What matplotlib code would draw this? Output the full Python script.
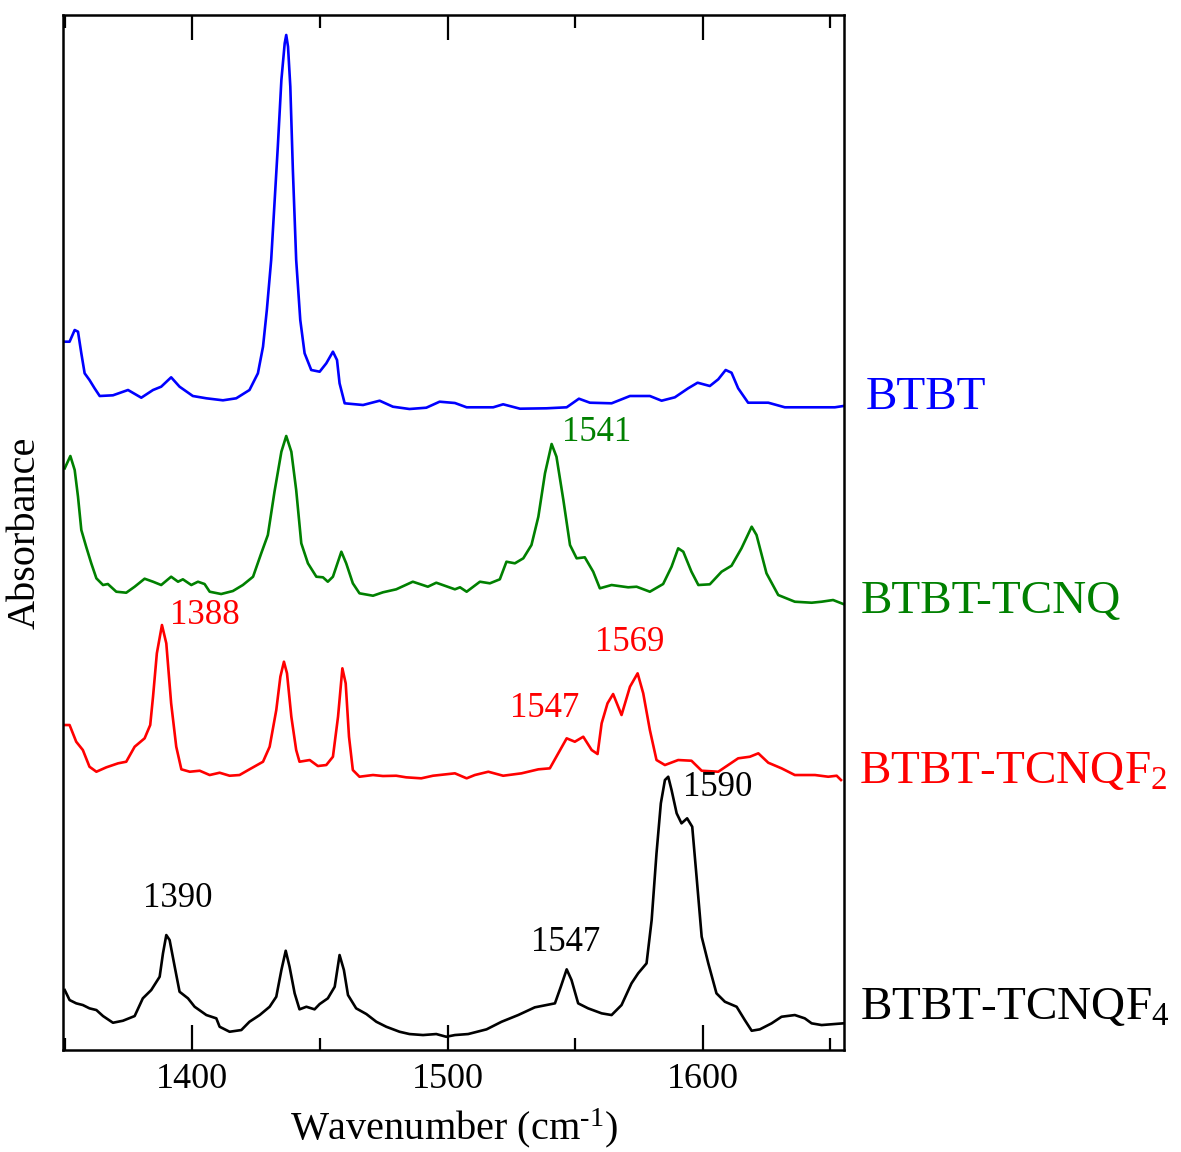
import matplotlib
matplotlib.use("Agg")
import matplotlib.pyplot as plt
from matplotlib.ticker import MultipleLocator

plt.rcParams['font.family'] = ['Liberation Serif', 'DejaVu Serif']
plt.rcParams['mathtext.fontset'] = 'custom'
plt.rcParams['mathtext.rm'] = 'Liberation Serif'
plt.rcParams['mathtext.it'] = 'Liberation Serif:italic'

# IR spectra (absorbance, stacked for clarity)
btbt_x = [1350.0, 1351.9, 1353.9, 1355.2, 1356.5, 1357.8, 1359.7, 1361.7, 1363.7, 1368.9,
          1374.8, 1380.0, 1384.6, 1387.8, 1391.7, 1395.0, 1400.2, 1405.5, 1412.0, 1417.2,
          1422.4, 1425.7, 1427.7, 1429.2, 1430.9, 1432.2, 1433.5, 1434.9, 1436.2, 1436.8,
          1437.5, 1438.4, 1439.4, 1440.7, 1442.3, 1444.0, 1446.6, 1449.9, 1452.5, 1455.1,
          1456.7, 1457.7, 1459.7, 1466.9, 1473.4, 1478.6, 1485.1, 1491.7, 1496.9, 1502.9,
          1507.5, 1517.9, 1521.8, 1528.4, 1538.8, 1546.7, 1551.5, 1555.8, 1564.3, 1571.5,
          1579.3, 1583.9, 1589.1, 1594.3, 1598.0, 1602.8, 1606.1, 1609.0, 1611.3, 1613.9,
          1617.8, 1625.7, 1632.2, 1651.8, 1655.1]
btbt_y = [7.083, 7.083, 7.20, 7.183, 6.967, 6.767, 6.70, 6.617, 6.54, 6.547,
          6.60, 6.523, 6.60, 6.633, 6.727, 6.633, 6.54, 6.517, 6.497, 6.517,
          6.60, 6.767, 7.033, 7.40, 7.90, 8.467, 9.033, 9.70, 10.067, 10.15,
          10.033, 9.633, 8.80, 7.90, 7.30, 6.967, 6.80, 6.783, 6.867, 6.983,
          6.90, 6.667, 6.467, 6.45, 6.493, 6.433, 6.41, 6.423, 6.483, 6.47,
          6.427, 6.427, 6.457, 6.413, 6.417, 6.427, 6.513, 6.473, 6.467, 6.54,
          6.54, 6.493, 6.527, 6.617, 6.673, 6.64, 6.707, 6.80, 6.773, 6.617,
          6.473, 6.473, 6.427, 6.427, 6.44]

tcnq_x = [1350.0, 1352.2, 1353.9, 1355.2, 1356.5, 1358.4, 1360.4, 1362.4, 1365.0, 1366.9,
          1370.2, 1374.1, 1377.4, 1381.3, 1384.6, 1387.8, 1391.7, 1394.4, 1396.3, 1399.6,
          1402.2, 1404.8, 1406.8, 1411.3, 1415.9, 1419.8, 1423.8, 1427.0, 1429.6, 1432.2,
          1434.9, 1436.8, 1438.8, 1440.7, 1442.7, 1445.3, 1448.6, 1451.2, 1453.1, 1455.1,
          1458.4, 1460.3, 1462.9, 1465.5, 1470.8, 1474.7, 1479.9, 1486.4, 1492.3, 1495.6,
          1502.9, 1504.9, 1507.5, 1512.7, 1516.6, 1520.5, 1523.1, 1526.4, 1529.7, 1532.9,
          1535.6, 1538.2, 1540.8, 1542.7, 1545.4, 1548.0, 1550.6, 1553.8, 1557.1, 1559.7,
          1564.3, 1570.8, 1574.1, 1579.3, 1584.5, 1587.8, 1590.4, 1592.4, 1595.6, 1598.3,
          1602.8, 1607.4, 1611.3, 1615.2, 1619.2, 1621.1, 1625.0, 1629.6, 1636.1, 1642.7,
          1646.6, 1651.1, 1655.1]
tcnq_y = [5.817, 5.94, 5.80, 5.533, 5.20, 5.033, 4.867, 4.717, 4.65, 4.66,
          4.583, 4.573, 4.633, 4.713, 4.683, 4.65, 4.733, 4.683, 4.707, 4.65,
          4.683, 4.66, 4.583, 4.56, 4.59, 4.65, 4.733, 4.967, 5.15, 5.583,
          5.983, 6.14, 5.983, 5.60, 5.067, 4.867, 4.733, 4.727, 4.683, 4.733,
          4.983, 4.867, 4.667, 4.567, 4.543, 4.577, 4.607, 4.683, 4.633, 4.673,
          4.607, 4.627, 4.583, 4.683, 4.667, 4.707, 4.883, 4.867, 4.917, 5.05,
          5.333, 5.767, 6.06, 5.933, 5.50, 5.05, 4.917, 4.927, 4.783, 4.617,
          4.65, 4.627, 4.633, 4.583, 4.66, 4.833, 5.017, 4.983, 4.783, 4.65,
          4.657, 4.783, 4.843, 5.017, 5.233, 5.15, 4.767, 4.55, 4.483, 4.473,
          4.483, 4.50, 4.46]

f2_x = [1350.0, 1351.9, 1354.5, 1357.1, 1359.7, 1362.4, 1366.3, 1370.9, 1374.1, 1377.4,
        1381.3, 1383.5, 1384.6, 1386.1, 1388.1, 1389.8, 1391.7, 1393.7, 1395.7, 1399.0,
        1402.9, 1406.8, 1410.7, 1414.6, 1418.5, 1422.4, 1427.7, 1430.3, 1432.9, 1434.5,
        1435.9, 1437.1, 1438.8, 1440.7, 1442.0, 1446.0, 1449.2, 1452.5, 1455.1, 1457.1,
        1458.8, 1460.1, 1461.4, 1462.9, 1465.5, 1470.8, 1474.7, 1479.9, 1483.8, 1489.7,
        1494.3, 1502.9, 1507.5, 1510.7, 1516.0, 1521.8, 1529.0, 1535.6, 1540.1, 1543.4,
        1546.7, 1549.9, 1553.2, 1556.5, 1558.8, 1560.4, 1562.7, 1564.9, 1568.2, 1571.5,
        1574.5, 1576.7, 1579.3, 1581.9, 1585.2, 1590.4, 1595.6, 1599.6, 1606.1, 1610.0,
        1613.9, 1618.5, 1621.8, 1625.7, 1630.9, 1636.1, 1644.0, 1649.2, 1652.5, 1654.2]
f2_y = [3.25, 3.25, 3.083, 3.00, 2.833, 2.783, 2.827, 2.867, 2.883, 3.033,
        3.117, 3.25, 3.533, 3.967, 4.25, 4.067, 3.467, 3.033, 2.807, 2.783,
        2.793, 2.75, 2.773, 2.743, 2.75, 2.807, 2.883, 3.033, 3.40, 3.733,
        3.883, 3.767, 3.333, 3.00, 2.883, 2.90, 2.84, 2.85, 2.933, 3.333,
        3.817, 3.667, 3.133, 2.80, 2.733, 2.75, 2.74, 2.743, 2.727, 2.717,
        2.743, 2.767, 2.717, 2.75, 2.783, 2.743, 2.767, 2.807, 2.817, 2.967,
        3.117, 3.083, 3.133, 3.00, 2.96, 3.267, 3.467, 3.56, 3.35, 3.633,
        3.767, 3.567, 3.20, 2.90, 2.85, 2.90, 2.893, 2.793, 2.783, 2.85,
        2.917, 2.933, 2.967, 2.873, 2.817, 2.75, 2.75, 2.733, 2.743, 2.70]

f4_x = [1350.0, 1351.9, 1354.5, 1357.1, 1359.7, 1362.4, 1365.0, 1368.9, 1372.8, 1377.4,
        1380.6, 1383.9, 1387.2, 1388.5, 1389.8, 1391.1, 1393.1, 1395.0, 1398.3, 1400.9,
        1405.5, 1409.4, 1410.7, 1414.6, 1419.2, 1422.4, 1426.4, 1430.3, 1432.9, 1434.9,
        1436.6, 1438.1, 1440.1, 1442.0, 1444.7, 1447.9, 1449.9, 1453.1, 1455.8, 1457.7,
        1459.4, 1461.0, 1464.2, 1468.2, 1472.1, 1476.0, 1481.2, 1485.1, 1490.4, 1495.6,
        1499.5, 1502.9, 1508.1, 1515.3, 1521.2, 1527.7, 1534.2, 1542.1, 1544.4, 1546.7,
        1548.6, 1551.2, 1555.1, 1560.4, 1564.3, 1568.2, 1572.1, 1574.7, 1578.0, 1580.0,
        1581.9, 1583.6, 1585.2, 1586.5, 1587.8, 1589.8, 1591.7, 1593.9, 1595.9, 1597.6,
        1599.6, 1602.2, 1605.4, 1608.7, 1613.3, 1616.5, 1619.2, 1622.4, 1627.0, 1630.9,
        1636.1, 1640.0, 1642.7, 1646.6, 1655.1]
f4_y = [0.60, 0.50, 0.467, 0.45, 0.417, 0.40, 0.34, 0.273, 0.293, 0.34,
        0.517, 0.60, 0.733, 0.967, 1.15, 1.10, 0.833, 0.583, 0.517, 0.433,
        0.35, 0.317, 0.233, 0.183, 0.20, 0.283, 0.35, 0.433, 0.533, 0.80,
        0.993, 0.833, 0.567, 0.407, 0.433, 0.407, 0.46, 0.517, 0.633, 0.95,
        0.80, 0.55, 0.417, 0.36, 0.283, 0.233, 0.183, 0.16, 0.15, 0.16,
        0.133, 0.15, 0.16, 0.207, 0.283, 0.35, 0.427, 0.467, 0.633, 0.807,
        0.70, 0.467, 0.417, 0.367, 0.35, 0.45, 0.667, 0.767, 0.867, 1.30,
        1.967, 2.467, 2.70, 2.733, 2.60, 2.367, 2.267, 2.317, 2.233, 1.733,
        1.133, 0.867, 0.567, 0.483, 0.433, 0.30, 0.193, 0.207, 0.267, 0.333,
        0.35, 0.317, 0.267, 0.25, 0.267]

names = ['BTBT', 'BTBT-TCNQ', r'BTBT-TCNQF$_\mathregular{2}$', r'BTBT-TCNQF$_\mathregular{4}$']
colors = ['#0000ff', '#008000', '#ff0000', '#000000']
name_y = [6.52, 4.48, 2.78, 0.42]
name_x = [1.028, 1.021, 1.019, 1.021]

# peak labels
peak_text = ['1541', '1388', '1547', '1569', '1590', '1390', '1547']
peak_x = [1558.5, 1404.9, 1538.2, 1571.5, 1606.0, 1394.4, 1546.4]
peak_y = [6.18, 4.35, 3.42, 4.08, 2.63, 1.52, 1.08]
peak_c = [1, 2, 2, 2, 3, 3, 3]

fig = plt.figure(figsize=(11.81, 11.52), dpi=100)
ax = fig.add_axes([0.0533, 0.0885, 0.6614, 0.8985])

series = [(btbt_x, btbt_y), (tcnq_x, tcnq_y), (f2_x, f2_y), (f4_x, f4_y)]
for (x, y), c in zip(series, colors):
    ax.plot(x, y, color=c, lw=1.9)

ax.set_xlim(1349.3, 1655.4)
ax.set_ylim(0, 10.35)

for i in range(len(peak_text)):
    ax.text(peak_x[i], peak_y[i], peak_text[i], color=colors[peak_c[i]],
            fontsize=25, ha='center', va='center')

for n, c, yy, xx in zip(names, colors, name_y, name_x):
    ax.text(xx, yy / 10.35, n, transform=ax.transAxes, color=c, fontsize=34,
            ha='left', va='center')

ax.xaxis.set_major_locator(MultipleLocator(100))
ax.xaxis.set_minor_locator(MultipleLocator(50))
ax.tick_params(axis='x', which='both', direction='in', top=True, width=1.6, labelsize=26, pad=9)
ax.tick_params(axis='x', which='major', length=18)
ax.tick_params(axis='x', which='minor', length=9)
ax.set_yticks([])
for s in ax.spines.values():
    s.set_linewidth(1.8)

ax.set_xlabel(r'Wavenumber (cm$^{\mathregular{\text{-}1}}$)', fontsize=29, labelpad=8)
ax.set_ylabel('Absorbance', fontsize=29, labelpad=14)

fig.savefig('out.png', dpi=100)
